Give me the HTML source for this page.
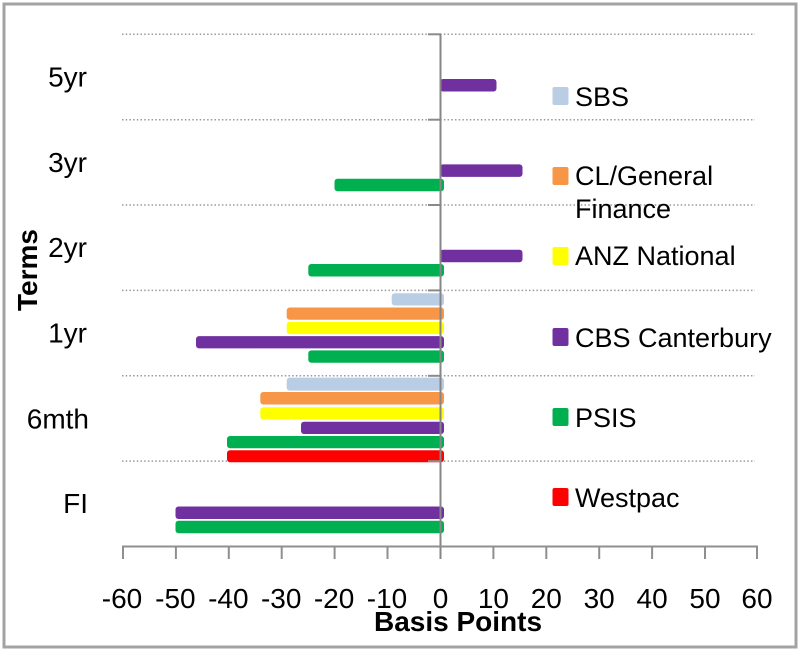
<!DOCTYPE html>
<html>
<head>
<meta charset="utf-8">
<style>
  html, body { margin:0; padding:0; background:#fff; }
  svg { display:block; }
  text { font-family: "Liberation Sans", "DejaVu Sans", sans-serif; fill:#000; }
</style>
</head>
<body>
<svg width="800" height="651" viewBox="0 0 800 651" xmlns="http://www.w3.org/2000/svg">
  <rect x="0" y="0" width="800" height="651" fill="#fff"/>
  <!-- outer border -->
  <rect x="4" y="4" width="792" height="643" fill="none" stroke="#a3a3a3" stroke-width="3"/>

  <!-- dotted gridlines -->
  <g stroke="#9a9a9a" stroke-width="1.5" stroke-dasharray="1.5 2.2">
    <line x1="122" y1="34.3" x2="755" y2="34.3"/>
    <line x1="122" y1="119.7" x2="755" y2="119.7"/>
    <line x1="122" y1="205" x2="755" y2="205"/>
    <line x1="122" y1="290.4" x2="755" y2="290.4"/>
    <line x1="122" y1="375.8" x2="755" y2="375.8"/>
    <line x1="122" y1="461.1" x2="755" y2="461.1"/>
  </g>

  <!-- bars -->
  <!-- 5yr (g=34.3) -->
  <rect x="440" y="79" width="56.5" height="12.5" rx="3" fill="#7030a0"/>
  <!-- 3yr (g=119.7) -->
  <rect x="440" y="164.4" width="82.5" height="12.5" rx="3" fill="#7030a0"/>
  <rect x="334.5" y="178.7" width="109.5" height="12.5" rx="3" fill="#00b050"/>
  <!-- 2yr (g=205) -->
  <rect x="440" y="249.7" width="82.5" height="12.5" rx="3" fill="#7030a0"/>
  <rect x="308.3" y="264" width="135.7" height="12.5" rx="3" fill="#00b050"/>
  <!-- 1yr (g=290.4) -->
  <rect x="391.7" y="293.2" width="52.3" height="12.3" rx="3" fill="#b9cde5"/>
  <rect x="286.7" y="307.5" width="157.3" height="12.3" rx="3" fill="#f79646"/>
  <rect x="286.7" y="321.8" width="157.3" height="12.3" rx="3" fill="#ffff00"/>
  <rect x="196" y="336.1" width="248" height="12.3" rx="3" fill="#7030a0"/>
  <rect x="308.3" y="350.4" width="135.7" height="12.3" rx="3" fill="#00b050"/>
  <!-- 6mth (g=375.8) -->
  <rect x="286.7" y="377.6" width="157.3" height="13" rx="3" fill="#b9cde5"/>
  <rect x="260.3" y="392" width="183.7" height="12.5" rx="3" fill="#f79646"/>
  <rect x="260.3" y="407.2" width="183.7" height="12.3" rx="3" fill="#ffff00"/>
  <rect x="301" y="421.7" width="143" height="12.3" rx="3" fill="#7030a0"/>
  <rect x="227" y="436" width="217" height="12.3" rx="3" fill="#00b050"/>
  <rect x="227" y="450.3" width="217" height="12" rx="3" fill="#ff0000"/>
  <!-- FI (g=461.1) -->
  <rect x="175.5" y="506.5" width="268.5" height="12.5" rx="3" fill="#7030a0"/>
  <rect x="175.5" y="520.8" width="268.5" height="12.5" rx="3" fill="#00b050"/>

  <!-- y-axis tick marks at zero line -->
  <g stroke="#8a8a8a" stroke-width="2">
    <line x1="428" y1="34.3" x2="441" y2="34.3"/>
    <line x1="428" y1="119.7" x2="441" y2="119.7"/>
    <line x1="428" y1="205" x2="441" y2="205"/>
    <line x1="428" y1="290.4" x2="441" y2="290.4"/>
    <line x1="428" y1="375.8" x2="441" y2="375.8"/>
    <line x1="428" y1="461.1" x2="441" y2="461.1"/>
  </g>
  <!-- zero line -->
  <line x1="440.5" y1="34" x2="440.5" y2="559" stroke="#868686" stroke-width="2"/>

  <!-- x axis -->
  <g stroke="#8f8f8f" stroke-width="2">
    <line x1="122" y1="546.5" x2="758" y2="546.5"/>
    <line x1="123" y1="546" x2="123" y2="559"/>
    <line x1="175.9" y1="546" x2="175.9" y2="559"/>
    <line x1="228.8" y1="546" x2="228.8" y2="559"/>
    <line x1="281.7" y1="546" x2="281.7" y2="559"/>
    <line x1="334.6" y1="546" x2="334.6" y2="559"/>
    <line x1="387.5" y1="546" x2="387.5" y2="559"/>
    <line x1="493.4" y1="546" x2="493.4" y2="559"/>
    <line x1="546.3" y1="546" x2="546.3" y2="559"/>
    <line x1="599.2" y1="546" x2="599.2" y2="559"/>
    <line x1="652.1" y1="546" x2="652.1" y2="559"/>
    <line x1="705" y1="546" x2="705" y2="559"/>
    <line x1="757" y1="546" x2="757" y2="559"/>
  </g>

  <!-- x tick labels -->
  <g font-size="28" text-anchor="middle">
    <text x="122" y="608">-60</text>
    <text x="175.4" y="608">-50</text>
    <text x="228.3" y="608">-40</text>
    <text x="281.2" y="608">-30</text>
    <text x="334.1" y="608">-20</text>
    <text x="387" y="608">-10</text>
    <text x="440.5" y="608">0</text>
    <text x="493.4" y="608">10</text>
    <text x="546.3" y="608">20</text>
    <text x="599.2" y="608">30</text>
    <text x="652.1" y="608">40</text>
    <text x="705" y="608">50</text>
    <text x="757" y="608">60</text>
  </g>
  <text x="458" y="631" font-size="28" font-weight="bold" text-anchor="middle">Basis Points</text>

  <!-- y category labels -->
  <g font-size="28" text-anchor="end">
    <text x="87" y="86.5">5yr</text>
    <text x="87" y="171.9">3yr</text>
    <text x="87" y="257.2">2yr</text>
    <text x="87" y="342.6">1yr</text>
    <text x="89" y="428.5">6mth</text>
    <text x="88" y="513">FI</text>
  </g>
  <text transform="translate(37,270) rotate(-90)" font-size="28" font-weight="bold" text-anchor="middle">Terms</text>

  <!-- legend -->
  <g>
    <rect x="552.5" y="87" width="16" height="18" rx="2" fill="#b9cde5"/>
    <rect x="552.5" y="167" width="16" height="18" rx="2" fill="#f79646"/>
    <rect x="552.5" y="247" width="16" height="18" rx="2" fill="#ffff00"/>
    <rect x="552.5" y="328" width="16" height="18" rx="2" fill="#7030a0"/>
    <rect x="552.5" y="408" width="16" height="18" rx="2" fill="#00b050"/>
    <rect x="552.5" y="488" width="16" height="18" rx="2" fill="#ff0000"/>
  </g>
  <g font-size="27">
    <text x="575" y="106">SBS</text>
    <text x="575" y="185">CL/General</text>
    <text x="575" y="218">Finance</text>
    <text x="575" y="265">ANZ National</text>
    <text x="575" y="347">CBS Canterbury</text>
    <text x="575" y="427">PSIS</text>
    <text x="575" y="507">Westpac</text>
  </g>
</svg>
</body>
</html>
